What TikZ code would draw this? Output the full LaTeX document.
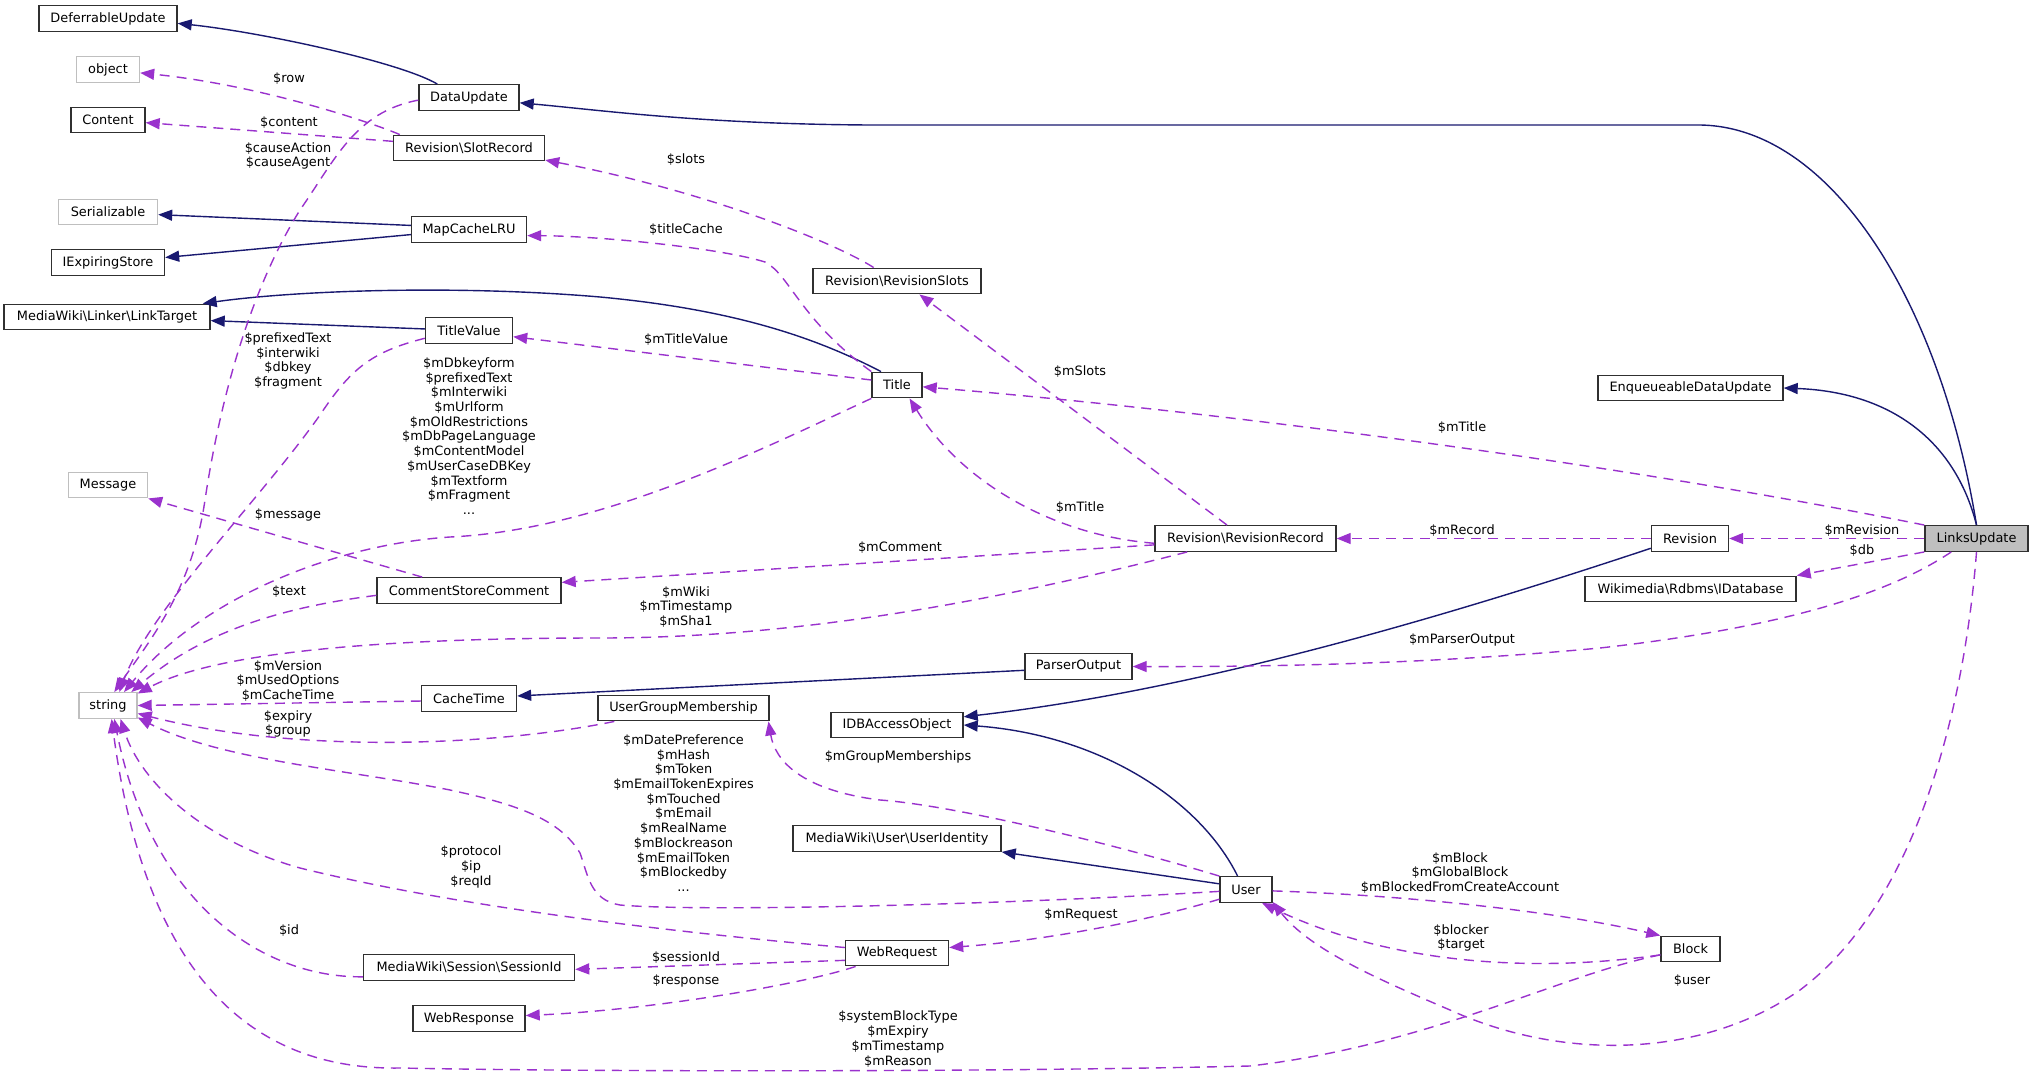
\documentclass[tikz,border=0pt]{standalone}
\usepackage{fontspec}
\setmainfont{DejaVu Sans}
\usetikzlibrary{arrows.meta}
\definecolor{navyline}{HTML}{191970}
\definecolor{orchidline}{HTML}{9A32CD}
\definecolor{extgray}{HTML}{BFBFBF}
\definecolor{boxline}{HTML}{303030}
\begin{document}
\begin{tikzpicture}[x=0.5pt,y=-0.5pt,
  every node/.style={font=\fontsize{6.45}{7.35}\selectfont},
  cls/.style={draw=boxline, line width=0.7pt, fill=white, inner sep=0pt, minimum height=12.75pt},
  ext/.style={cls, draw=extgray},
  mainbox/.style={cls, fill=extgray},
  inh/.style={draw=navyline, line width=0.7pt, -{Triangle[length=7pt,width=5.5pt]}},
  use/.style={draw=orchidline, line width=0.7pt, dash pattern=on 5pt off 3.5pt, -{Triangle[length=7pt,width=5.5pt]}},
  lbl/.style={align=center, inner sep=0pt}]
\fill[white] (0,0) rectangle (2033,1075);
\useasboundingbox (0,0) rectangle (2033,1075);

% nodes
\node[cls, minimum width=69pt] (DeferrableUpdate) at (108,18.5) {DeferrableUpdate};
\node[ext, minimum width=31.5pt] (object) at (108,69.5) {object};
\node[cls, minimum width=37pt] (Content) at (108,120) {Content};
\node[cls, minimum width=50pt] (DataUpdate) at (469,97.5) {DataUpdate};
\node[cls, minimum width=75.5pt] (SlotRecord) at (469,148) {Revision\textbackslash SlotRecord};
\node[ext, minimum width=49.5pt] (Serializable) at (108,212) {Serializable};
\node[cls, minimum width=57.5pt] (MapCacheLRU) at (469,229.5) {MapCacheLRU};
\node[cls, minimum width=56.5pt] (IExpiringStore) at (108,262.5) {IExpiringStore};
\node[cls, minimum width=103pt] (LinkTarget) at (107,317) {MediaWiki\textbackslash Linker\textbackslash LinkTarget};
\node[cls, minimum width=43.5pt] (TitleValue) at (469,330.5) {TitleValue};
\node[ext, minimum width=39.5pt] (Message) at (108,485) {Message};
\node[cls, minimum width=92pt] (CSC) at (469,590.5) {CommentStoreComment};
\node[ext, minimum width=29pt] (string) at (108,705.5) {string};
\node[cls, minimum width=47.5pt] (CacheTime) at (469,698.5) {CacheTime};
\node[cls, minimum width=85.5pt] (UGM) at (683.5,708) {UserGroupMembership};
\node[cls, minimum width=105.5pt] (SessionId) at (469,967.5) {MediaWiki\textbackslash Session\textbackslash SessionId};
\node[cls, minimum width=56pt] (WebResponse) at (469,1018.5) {WebResponse};
\node[cls, minimum width=84pt] (RevisionSlots) at (897,281) {Revision\textbackslash RevisionSlots};
\node[cls, minimum width=25pt] (Title) at (897,385) {Title};
\node[cls, minimum width=90.5pt] (RevisionRecord) at (1245.5,538.5) {Revision\textbackslash RevisionRecord};
\node[cls, minimum width=53.5pt] (ParserOutput) at (1078.5,666.5) {ParserOutput};
\node[cls, minimum width=66pt] (IDBAccessObject) at (897,725) {IDBAccessObject};
\node[cls, minimum width=104pt] (UserIdentity) at (897,838.5) {MediaWiki\textbackslash User\textbackslash UserIdentity};
\node[cls, minimum width=26pt] (User) at (1246,889.5) {User};
\node[cls, minimum width=51.5pt] (WebRequest) at (897,953) {WebRequest};
\node[cls, minimum width=92.5pt] (Enqueueable) at (1690.5,388) {EnqueueableDataUpdate};
\node[mainbox, minimum width=51.5pt] (LinksUpdate) at (1976.5,538.5) {LinksUpdate};
\node[cls, minimum width=38.5pt] (Revision) at (1690,538.5) {Revision};
\node[cls, minimum width=105.5pt] (IDatabase) at (1690.5,589) {Wikimedia\textbackslash Rdbms\textbackslash IDatabase};
\node[cls, minimum width=29.5pt] (Block) at (1690.5,949) {Block};

% inheritance
\draw[inh] (DataUpdate.157) .. controls (400,62) and (260,32) .. (DeferrableUpdate.-4);
\draw[inh] (LinksUpdate.north) .. controls (1940,300) and (1830,125) .. (1698,125) -- (869,125) .. controls (700,124) and (600,110) .. (DataUpdate.-6);
\draw[inh] (LinksUpdate.north) .. controls (1955,440) and (1890,392) .. (Enqueueable.east);
\draw[inh] (MapCacheLRU.176) -- (Serializable.-3);
\draw[inh] (MapCacheLRU.185) -- (IExpiringStore.5);
\draw[inh] (Title.140) .. controls (820,340) and (740,310) .. (600,297) .. controls (460,285) and (300,290) .. (LinkTarget.8);
\draw[inh] (TitleValue.178) -- (LinkTarget.-2);
\draw[inh] (ParserOutput.184) -- (CacheTime.3);
\draw[inh] (Revision.194) .. controls (1450,615) and (1200,690) .. (IDBAccessObject.7);
\draw[inh] (User.122) .. controls (1200,800) and (1100,735) .. (IDBAccessObject.east);
\draw[inh] (User.168) -- (UserIdentity.south east);

% usage
\draw[use] (SlotRecord.169) .. controls (370,122) and (260,85) .. (object.-6);
\node[lbl] (Lrow) at (289,79) {\$row};
\draw[use] (SlotRecord.175) -- (Content.-4);
\node[lbl] (Lcontent) at (289,123) {\$content};
\draw[use] (DataUpdate.183) .. controls (355,112) and (335,160) .. (300,210) .. controls (250,290) and (220,400) .. (205,500) .. controls (192,590) and (150,640) .. (string.65);
\node[lbl] (LcauseAction) at (288,156) {\$causeAction\\\$causeAgent};
\draw[use] (RevisionSlots.150) .. controls (830,240) and (700,190) .. (SlotRecord.-9);
\node[lbl] (Lslots) at (686,160) {\$slots};
\draw[use] (Title.north west) .. controls (800,320) and (790,275) .. (765,262) .. controls (720,248) and (600,236) .. (MapCacheLRU.-6);
\node[lbl] (LtitleCache) at (686,230) {\$titleCache};
\draw[use] (Title.169) -- (TitleValue.-8);
\node[lbl] (LmTitleValue) at (686,340) {\$mTitleValue};
\draw[use] (TitleValue.190) .. controls (370,352) and (350,370) .. (320,415) .. controls (260,500) and (150,610) .. (string.50);
\node[lbl] (LprefixedText) at (288,361) {\$prefixedText\\\$interwiki\\\$dbkey\\\$fragment};
\draw[use] (Title.south west) .. controls (760,450) and (600,530) .. (450,537) .. controls (330,545) and (200,600) .. (string.40);
\node[lbl] (LmDbkeyform) at (469,436) {\$mDbkeyform\\\$prefixedText\\\$mInterwiki\\\$mUrlform\\\$mOldRestrictions\\\$mDbPageLanguage\\\$mContentModel\\\$mUserCaseDBKey\\\$mTextform\\\$mFragment\\...};
\draw[use] (RevisionRecord.144) -- (RevisionSlots.-31);
\node[lbl] (LmSlots) at (1080,372) {\$mSlots};
\draw[use] (RevisionRecord.183) .. controls (1050,535) and (960,480) .. (Title.-47);
\node[lbl] (LmTitleA) at (1080,508) {\$mTitle};
\draw[use] (LinksUpdate.north west) .. controls (1600,460) and (1200,410) .. (Title.-4);
\node[lbl] (LmTitleB) at (1462,428) {\$mTitle};
\draw[use] (RevisionRecord.184) -- (CSC.5);
\node[lbl] (LmComment) at (900,548) {\$mComment};
\draw[use] (CSC.164) -- (Message.south east);
\node[lbl] (Lmessage) at (288,515) {\$message};
\draw[use] (CSC.183) .. controls (300,605) and (210,625) .. (string.30);
\node[lbl] (Ltext) at (289,592) {\$text};
\draw[use] (RevisionRecord.193) .. controls (1000,600) and (800,638) .. (600,638) .. controls (400,638) and (220,650) .. (string.22);
\node[lbl] (LmWiki) at (686,607) {\$mWiki\\\$mTimestamp\\\$mSha1};
\draw[use] (LinksUpdate.west) -- (Revision.east);
\node[lbl] (LmRevision) at (1862,531) {\$mRevision};
\draw[use] (Revision.west) -- (RevisionRecord.east);
\node[lbl] (LmRecord) at (1462,531) {\$mRecord};
\draw[use] (LinksUpdate.south west) -- (IDatabase.north east);
\node[lbl] (Ldb) at (1862,551) {\$db};
\draw[use] (LinksUpdate.208) .. controls (1880,600) and (1760,630) .. (1600,648) .. controls (1450,662) and (1300,667) .. (ParserOutput.east);
\node[lbl] (LmParserOutput) at (1462,640) {\$mParserOutput};
\draw[use] (CacheTime.183) -- (string.east);
\node[lbl] (LmVersion) at (288,681) {\$mVersion\\\$mUsedOptions\\\$mCacheTime};
\draw[use] (UGM.191) .. controls (500,745) and (300,755) .. (string.-15);
\node[lbl] (Lexpiry) at (288,724) {\$expiry\\\$group};
\draw[use] (User.north west) .. controls (1100,840) and (950,805) .. (880,800) .. controls (800,790) and (775,760) .. (UGM.-9);
\node[lbl] (LmGroupMemberships) at (898,757) {\$mGroupMemberships};
\draw[use] (User.184) .. controls (1000,905) and (700,912) .. (620,905) .. controls (590,900) and (588,875) .. (580,853) .. controls (560,820) and (520,805) .. (450,790) .. controls (350,770) and (220,760) .. (string.-22);
\node[lbl] (LmDatePreference) at (683.5,813) {\$mDatePreference\\\$mHash\\\$mToken\\\$mEmailTokenExpires\\\$mTouched\\\$mEmail\\\$mRealName\\\$mBlockreason\\\$mEmailToken\\\$mBlockedby\\...};
\draw[use] (WebRequest.174) .. controls (650,930) and (450,905) .. (300,868) .. controls (200,840) and (140,780) .. (string.-47);
\node[lbl] (Lprotocol) at (471,867) {\$protocol\\\$ip\\\$reqId};
\draw[use] (SessionId.185) .. controls (260,978) and (150,900) .. (string.-65);
\node[lbl] (Lid) at (289,931) {\$id};
\draw[use] (WebRequest.188) -- (SessionId.-1);
\node[lbl] (LsessionId) at (686,958) {\$sessionId};
\draw[use] (WebRequest.198) .. controls (800,985) and (650,1010) .. (WebResponse.3);
\node[lbl] (Lresponse) at (686,981) {\$response};
\draw[use] (User.200) .. controls (1150,920) and (1050,940) .. (WebRequest.6);
\node[lbl] (LmRequest) at (1081,915) {\$mRequest};
\draw[use] (Block.191) .. controls (1560,975) and (1430,1045) .. (1250,1066) .. controls (1000,1072) and (600,1072) .. (400,1068) .. controls (280,1070) and (150,1010) .. (string.-75);
\node[lbl] (LsystemBlockType) at (898,1039) {\$systemBlockType\\\$mExpiry\\\$mTimestamp\\\$mReason};
\draw[use] (User.-3) .. controls (1400,895) and (1550,910) .. (Block.north west);
\node[lbl] (LmBlock) at (1460,873) {\$mBlock\\\$mGlobalBlock\\\$mBlockedFromCreateAccount};
\draw[use] (Block.191) .. controls (1520,975) and (1380,960) .. (User.-40);
\node[lbl] (Lblocker) at (1461,938) {\$blocker\\\$target};
\draw[use] (LinksUpdate.south) .. controls (1965,700) and (1920,900) .. (1800,990) .. controls (1700,1060) and (1560,1060) .. (1450,1010) .. controls (1380,980) and (1310,950) .. (User.-25);
\node[lbl] (Luser) at (1692,981) {\$user};
\end{tikzpicture}
\end{document}
